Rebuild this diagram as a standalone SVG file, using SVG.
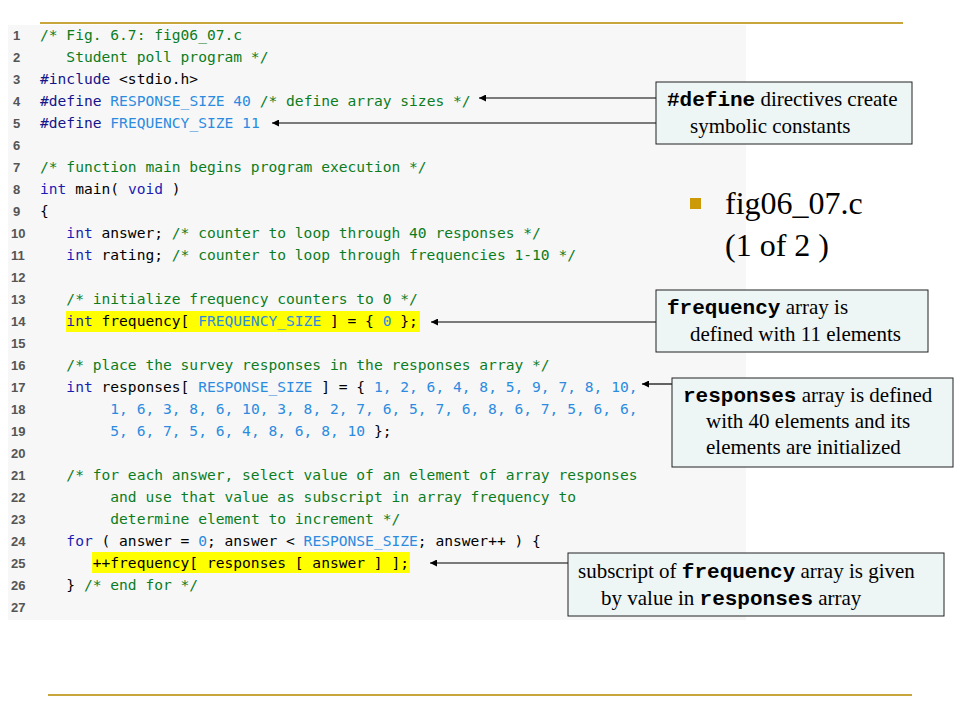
<svg xmlns="http://www.w3.org/2000/svg" width="960" height="720" viewBox="0 0 960 720">
<style>
.code{font-family:"DejaVu Sans Mono",monospace;font-size:14.6px;fill:#000;white-space:pre}
.ln{font-family:"Liberation Sans",Arial,sans-serif;font-size:13px;font-weight:bold;fill:#555}
.c{fill:#0b7d1e}
.k{fill:#1c1cb4}
.p{fill:#14148c}
.n{fill:#2b8be0}
.box{fill:#eef5f5;stroke:#222;stroke-width:1}
.t{font-family:"Liberation Serif","Times New Roman",serif;font-size:21px;fill:#000}
.m{font-family:"Liberation Mono","Courier New",monospace;font-weight:bold}
.hl{fill:#ffff00}
.gold{stroke:#c8a63c;stroke-width:2}
.conn{stroke:#000;stroke-width:1.2;fill:none}
</style>
<defs>
<marker id="ah" viewBox="0 0 10 10" refX="10" refY="5" markerWidth="7" markerHeight="7" orient="auto" markerUnits="userSpaceOnUse">
<path d="M0,0 L10,5 L0,10 z" fill="#000"/>
</marker>
</defs>
<rect x="0" y="0" width="960" height="720" fill="#fff"/>
<line class="gold" x1="40" y1="23" x2="903" y2="23"/>
<line class="gold" x1="48" y1="695" x2="912" y2="695"/>

<g id="code">
<rect x="8" y="25" width="738" height="595" fill="#f7f7f7"/>
<rect class="hl" x="66" y="311" width="354" height="21"/>
<rect class="hl" x="92" y="552" width="318" height="21"/>
<g class="ln">
<text x="13" y="40">1</text><text x="13" y="62">2</text><text x="13" y="84">3</text><text x="13" y="106">4</text><text x="13" y="128">5</text><text x="13" y="150">6</text><text x="13" y="172">7</text><text x="13" y="194">8</text><text x="13" y="216">9</text><text x="11" y="238">10</text><text x="11" y="260">11</text><text x="11" y="282">12</text><text x="11" y="304">13</text><text x="11" y="326">14</text><text x="11" y="348">15</text><text x="11" y="370">16</text><text x="11" y="392">17</text><text x="11" y="414">18</text><text x="11" y="436">19</text><text x="11" y="458">20</text><text x="11" y="480">21</text><text x="11" y="502">22</text><text x="11" y="524">23</text><text x="11" y="546">24</text><text x="11" y="568">25</text><text x="11" y="590">26</text><text x="11" y="612">27</text>
</g>
<g class="code">
<text xml:space="preserve" x="40" y="40"><tspan class="c">/* Fig. 6.7: fig06_07.c</tspan></text>
<text xml:space="preserve" x="40" y="62"><tspan class="c">   Student poll program */</tspan></text>
<text xml:space="preserve" x="40" y="84"><tspan class="p">#include</tspan> &lt;stdio.h&gt;</text>
<text xml:space="preserve" x="40" y="106"><tspan class="p">#define</tspan> <tspan class="n">RESPONSE_SIZE 40</tspan> <tspan class="c">/* define array sizes */</tspan></text>
<text xml:space="preserve" x="40" y="128"><tspan class="p">#define</tspan> <tspan class="n">FREQUENCY_SIZE 11</tspan></text>
<text xml:space="preserve" x="40" y="172"><tspan class="c">/* function main begins program execution */</tspan></text>
<text xml:space="preserve" x="40" y="194"><tspan class="k">int</tspan> main( <tspan class="k">void</tspan> )</text>
<text xml:space="preserve" x="40" y="216">{</text>
<text xml:space="preserve" x="40" y="238">   <tspan class="k">int</tspan> answer; <tspan class="c">/* counter to loop through 40 responses */</tspan></text>
<text xml:space="preserve" x="40" y="260">   <tspan class="k">int</tspan> rating; <tspan class="c">/* counter to loop through frequencies 1-10 */</tspan></text>
<text xml:space="preserve" x="40" y="304">   <tspan class="c">/* initialize frequency counters to 0 */</tspan></text>
<text xml:space="preserve" x="40" y="326">   <tspan class="k">int</tspan> frequency[ <tspan class="n">FREQUENCY_SIZE</tspan> ] = { <tspan class="n">0</tspan> };</text>
<text xml:space="preserve" x="40" y="370">   <tspan class="c">/* place the survey responses in the responses array */</tspan></text>
<text xml:space="preserve" x="40" y="392">   <tspan class="k">int</tspan> responses[ <tspan class="n">RESPONSE_SIZE</tspan> ] = { <tspan class="n">1, 2, 6, 4, 8, 5, 9, 7, 8, 10,</tspan></text>
<text xml:space="preserve" x="40" y="414">        <tspan class="n">1, 6, 3, 8, 6, 10, 3, 8, 2, 7, 6, 5, 7, 6, 8, 6, 7, 5, 6, 6,</tspan></text>
<text xml:space="preserve" x="40" y="436">        <tspan class="n">5, 6, 7, 5, 6, 4, 8, 6, 8, 10</tspan> };</text>
<text xml:space="preserve" x="40" y="480">   <tspan class="c">/* for each answer, select value of an element of array responses</tspan></text>
<text xml:space="preserve" x="40" y="502">        <tspan class="c">and use that value as subscript in array frequency to</tspan></text>
<text xml:space="preserve" x="40" y="524">        <tspan class="c">determine element to increment */</tspan></text>
<text xml:space="preserve" x="40" y="546">   <tspan class="k">for</tspan> ( answer = <tspan class="n">0</tspan>; answer &lt; <tspan class="n">RESPONSE_SIZE</tspan>; answer++ ) {</text>
<text xml:space="preserve" x="40" y="568">      ++frequency[ responses [ answer ] ];</text>
<text xml:space="preserve" x="40" y="590">   } <tspan class="c">/* end for */</tspan></text>
</g>
</g>

<g id="connectors">
<line class="conn" x1="656" y1="98" x2="479" y2="98" marker-end="url(#ah)"/>
<line class="conn" x1="656" y1="123" x2="272" y2="123" marker-end="url(#ah)"/>
<line class="conn" x1="656" y1="322" x2="431" y2="322" marker-end="url(#ah)"/>
<line class="conn" x1="672" y1="384" x2="642" y2="384" marker-end="url(#ah)"/>
<line class="conn" x1="568" y1="563" x2="430" y2="563" marker-end="url(#ah)"/>
</g>

<g id="note-define">
<rect class="box" x="656" y="82" width="256" height="62"/>
<text class="t" x="667" y="106"><tspan class="m">#define</tspan> directives create</text>
<text class="t" x="690" y="133">symbolic constants</text>
</g>

<g id="title">
<rect x="690" y="198" width="11" height="11" fill="#cc9a06"/>
<text x="725" y="214" font-family="Liberation Serif,'Times New Roman',serif" font-size="32" fill="#000">fig06_07.c</text>
<text x="725" y="256" font-family="Liberation Serif,'Times New Roman',serif" font-size="32" fill="#000">(1 of 2 )</text>
</g>

<g id="note-frequency">
<rect class="box" x="656" y="290" width="272" height="62"/>
<text class="t" x="667" y="314"><tspan class="m">frequency</tspan> array is</text>
<text class="t" x="690" y="341">defined with 11 elements</text>
</g>

<g id="note-responses">
<rect class="box" x="672" y="378" width="281" height="89"/>
<text class="t" x="683" y="402"><tspan class="m">responses</tspan> array is defined</text>
<text class="t" x="706" y="428">with 40 elements and its</text>
<text class="t" x="706" y="454">elements are initialized</text>
</g>

<g id="note-subscript">
<rect class="box" x="568" y="553" width="376" height="63"/>
<text class="t" x="578" y="578">subscript of <tspan class="m">frequency</tspan> array is given</text>
<text class="t" x="601" y="605">by value in <tspan class="m">responses</tspan> array</text>
</g>
</svg>
